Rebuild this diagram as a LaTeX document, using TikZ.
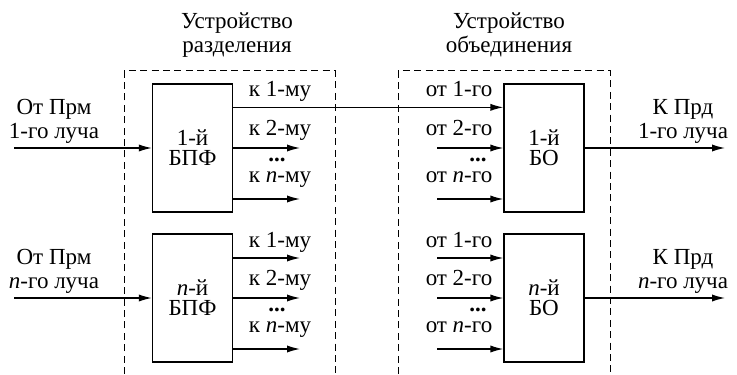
\documentclass[tikz,border=0pt]{standalone}
\usepackage{fontspec}
\setmainfont{Liberation Serif}
\usetikzlibrary{positioning,arrows.meta,calc}

\tikzset{
  block/.style={draw, minimum width=40pt, minimum height=64pt, inner sep=0pt, align=center, font=\fontsize{11.5}{10}\selectfont},
  lbl/.style={anchor=base, align=center, inner sep=0pt, font=\fontsize{11.5}{12}\selectfont},
  dots/.style={anchor=base, inner sep=0pt, font=\fontsize{11.5}{12}\bfseries},
  frame/.style={dash pattern=on 3.5pt off 2.2pt, line width=0.5pt},
}

\begin{document}
\begin{tikzpicture}[x=0.5pt, y=-0.5pt, line width=0.65pt, >={Latex[length=6.5pt,width=3.6pt]}]
    \useasboundingbox (0,0) rectangle (737,374);

    % dashed frames and their titles
    \draw[frame] (124,374) -- (124,71) -- (335,71) -- (335,374);
    \draw[frame] (398,374) -- (398,71) -- (610,71) -- (610,374);
    \node[lbl] (ttl1) at (237,53) {Устройство\\разделения};
    \node[lbl] (ttl2) at (509,53) {Устройство\\объединения};

    % blocks
    \node[block] (bpf1) at (192.5,148) {1-й\\БПФ};
    \node[block] (bpfn) at (192.5,298) {\textit{n}-й\\БПФ};
    \node[block] (bo1) at (544,148) {1-й\\БО};
    \node[block] (bon) at (544,298) {\textit{n}-й\\БО};

    % beam inputs and outputs
    \coordinate (in1) at (14,148);
    \coordinate (inn) at (14,298);
    \coordinate (out1) at (725,148);
    \coordinate (outn) at (725,298);
    \draw[->] (in1) -- (bpf1);
    \draw[->] (inn) -- (bpfn);
    \draw[->] (bo1) -- (out1);
    \draw[->] (bon) -- (outn);
    \node[lbl] (src1) at (54,138) {От Прм\\1-го луча};
    \node[lbl] (srcn) at (54,288) {От Прм\\\textit{n}-го луча};
    \node[lbl] (dst1) at (683,138) {К Прд\\1-го луча};
    \node[lbl] (dstn) at (683,288) {К Прд\\\textit{n}-го луча};

    % 1st BPF -> 1st BO
    \draw[->] ($(bpf1.north east)+(0,24)$) -- ($(bo1.north west)+(0,24)$);

    % free outputs / inputs
    \foreach \y [count=\i] in {148,199} {
        \coordinate (k1\i) at (300,\y);
        \draw[->] (bpf1.east |- k1\i) -- (k1\i);
        \coordinate (s1\i) at (437,\y);
        \draw[->] (s1\i) -- (bo1.west |- s1\i);
    }
    \foreach \y [count=\i] in {258,298,349} {
        \coordinate (kn\i) at (300,\y);
        \draw[->] (bpfn.east |- kn\i) -- (kn\i);
        \coordinate (sn\i) at (437,\y);
        \draw[->] (sn\i) -- (bon.west |- sn\i);
    }

    % channel labels
    \foreach \b/\d in {1/0, n/150} {
        \node[lbl] (ka\b) at (280,97+\d) {к 1-му};
        \node[lbl] (kb\b) at (280,135+\d) {к 2-му};
        \node[dots] (kd\b) at (277,161+\d) {...};
        \node[lbl] (kc\b) at (280,182+\d) {к \textit{n}-му};
        \node[lbl] (sa\b) at (459,97+\d) {от 1-го};
        \node[lbl] (sb\b) at (459,135+\d) {от 2-го};
        \node[dots] (sd\b) at (478,161+\d) {...};
        \node[lbl] (sc\b) at (459,182+\d) {от \textit{n}-го};
    }
\end{tikzpicture}
\end{document}
